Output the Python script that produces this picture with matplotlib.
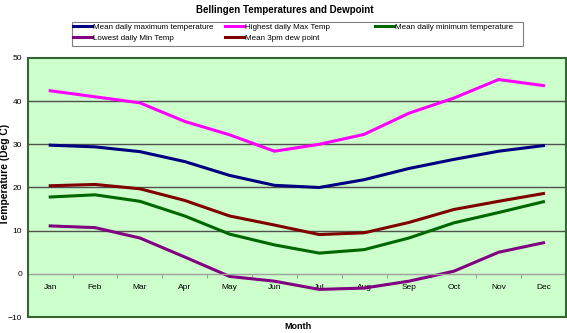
import matplotlib
matplotlib.use("Agg")
import matplotlib.pyplot as plt
from matplotlib.patches import Rectangle
import numpy as np

plt.rcParams['font.family'] = ['Liberation Sans', 'DejaVu Sans']

months = ['Jan', 'Feb', 'Mar', 'Apr', 'May', 'Jun', 'Jul', 'Aug', 'Sep', 'Oct', 'Nov', 'Dec']
mean_max = [29.8, 29.4, 28.3, 26.0, 22.8, 20.5, 20.0, 21.8, 24.4, 26.5, 28.4, 29.7]
highest_max = [42.4, 41.0, 39.6, 35.3, 32.2, 28.4, 30.0, 32.3, 37.2, 40.7, 45.0, 43.6]
mean_min = [17.8, 18.3, 16.8, 13.4, 9.2, 6.7, 4.8, 5.6, 8.3, 11.8, 14.2, 16.7]
lowest_min = [11.1, 10.7, 8.3, 3.9, -0.6, -1.7, -3.6, -3.3, -1.7, 0.6, 5.0, 7.2]
dew_3pm = [20.4, 20.7, 19.7, 17.0, 13.4, 11.3, 9.1, 9.5, 11.9, 14.9, 16.8, 18.6]

x = np.arange(len(months))
W, H = 567, 333

fig = plt.figure(figsize=(5.67, 3.33), dpi=100)
ax = fig.add_axes([0.049, 0.048, 0.949, 0.778])
ax.set_facecolor('#CCFFCC')

lw = 2.2
l1, = ax.plot(x, mean_max, color='#000080', lw=lw, label='Mean daily maximum temperature')
l2, = ax.plot(x, highest_max, color='#FF00FF', lw=lw, label='Highest daily Max Temp')
l3, = ax.plot(x, mean_min, color='#006600', lw=lw, label='Mean daily minimum temperature')
l4, = ax.plot(x, lowest_min, color='#800080', lw=lw, label='Lowest daily Min Temp')
l5, = ax.plot(x, dew_3pm, color='#800000', lw=lw, label='Mean 3pm dew point')

ax.set_xlim(-0.5, 11.5)
ax.set_ylim(-10, 50)
ax.set_yticks(np.arange(-10, 51, 10))
for yv in [10, 20, 30, 40]:
    ax.axhline(yv, color='#505050', lw=1, zorder=1)

# category axis crosses at zero
for s in ['top', 'right', 'left']:
    ax.spines[s].set_visible(False)
ax.spines['bottom'].set_position(('data', 0))
ax.spines['bottom'].set_color('#A0A0A0')
ax.spines['bottom'].set_linewidth(1)
ax.set_xticks(np.arange(-0.5, 12, 1))
ax.set_xticklabels([])
ax.set_xticks(x, minor=True)
ax.set_xticklabels(months, minor=True)
ax.tick_params(axis='x', which='major', length=3, color='#A0A0A0', direction='out')
ax.tick_params(axis='x', which='minor', length=0, pad=7, labelsize=6)
ax.tick_params(axis='y', length=0, pad=4, labelsize=6)

ax.add_patch(Rectangle((0, 0), 1, 1, transform=ax.transAxes, fill=False,
                       ec='#336633', lw=1.5, clip_on=False, zorder=5))

fig.text(0.009, 0.476, 'Temperature (Deg C)', rotation=90, ha='center', va='center',
         fontsize=7.4, fontweight='bold')
fig.text(0.526, 0.021, 'Month', ha='center', va='center', fontsize=6.5, fontweight='bold')
fig.text(0.503, 0.97, 'Bellingen Temperatures and Dewpoint', ha='center', va='center',
         fontsize=7, fontweight='bold')

# legend: three columns laid out like the spreadsheet legend
fig.add_artist(Rectangle((72 / W, 1 - 46 / H), (523 - 72) / W, 24 / H,
                         transform=fig.transFigure, fill=False, ec='#808080', lw=0.8))
cols = [([l1, l4], 73), ([l2, l5], 225), ([l3], 375)]
for handles, xpix in cols:
    lg = fig.legend(handles, [h.get_label() for h in handles], loc='upper left',
                    bbox_to_anchor=(xpix / W, 1 - 23.5 / H), fontsize=5.8,
                    frameon=False, handlelength=2.35, handletextpad=0.15,
                    labelspacing=0.4, borderpad=0, borderaxespad=0)

fig.savefig('out.png', dpi=100)
